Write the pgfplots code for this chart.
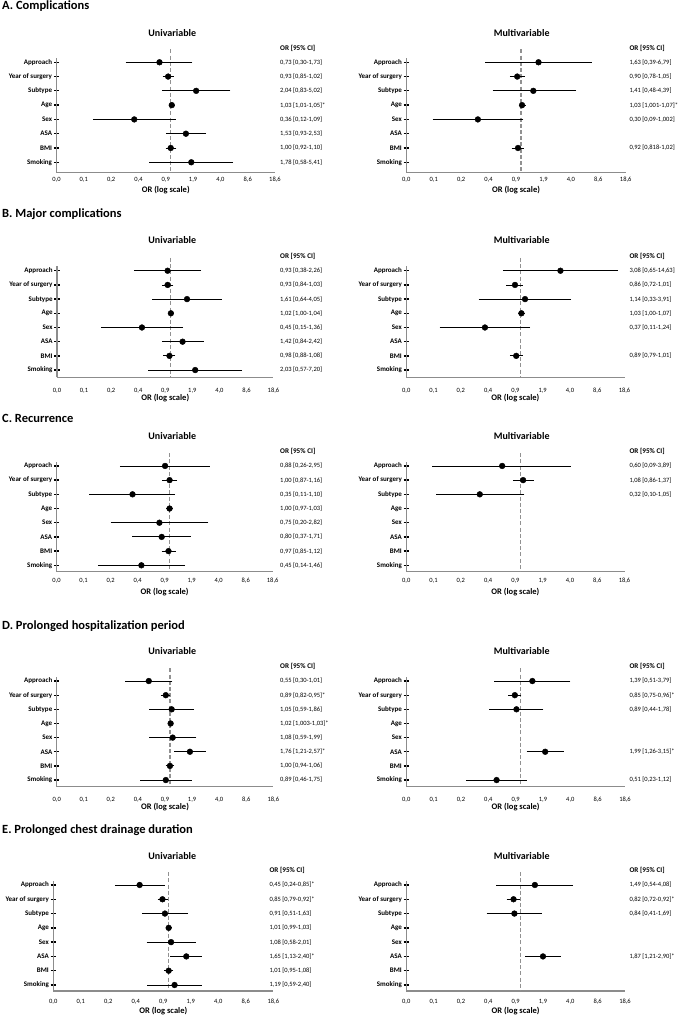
\documentclass[border=0pt]{standalone}
\usepackage{pgfplots}
\pgfplotsset{compat=1.18}
\usepackage{pgfplotstable}
\usepackage{fontspec}
\setmainfont{Carlito}

\definecolor{axgray}{RGB}{140,140,140}
\definecolor{dashgray}{RGB}{145,145,145}

\pgfplotsset{
  myforestaxis/.style={
    scale only axis,
    xmin=0.04071, xmax=18.59,
    ymax=8.3,
    xtick={0.04071,0.0875,0.1882,0.4047,0.87,1.8705,4.0216,8.6464,18.59},
    xticklabels={{0,0},{0,1},{0,2},{0,4},{0,9},{1,9},{4,0},{8,6},{18,6}},
    ytick={1,2,3,4,5,6,7,8},
    yticklabels={Smoking,BMI,ASA,Sex,Age,Subtype,Year of surgery,Approach},
    axis x line*=bottom, axis y line*=left,
    axis line style={axgray, line width=1.3pt},
    tick align=center,
    major tick length=5.5pt,
    xtick style={draw=none},
    ytick style={black, line width=1.3pt},
    xticklabel style={font=\fontsize{6.5}{7}\selectfont, anchor=center, inner sep=0pt},
    yticklabel style={font=\bfseries\fontsize{7}{8}\selectfont, anchor=east, inner sep=0pt, xshift=-1.5pt},
    xlabel={OR (log scale)},
    xlabel style={font=\bfseries\fontsize{8.5}{10}\selectfont, at={(rel axis cs:0.5,0)}, anchor=center, inner sep=0pt},
    clip=false,
  }
}

\newcommand{\fpanel}[9]{%
\begin{semilogxaxis}[myforestaxis, at={(#1pt,#3pt)}, anchor=south west, width=#2pt, height=#4pt, ymin=#5,
  xticklabel style={yshift=-#7pt}, xlabel style={yshift=-#8pt}]
\addplot[dashgray, dash pattern=on 4pt off 2.2pt, line width=1.3pt] coordinates {(1,8.9) (1,#5)};
\addplot[black, only marks, mark=*, mark size=2.9pt,
  error bars/.cd, x dir=both, x explicit,
  error bar style={line width=0.85pt, black},
  error mark options={line width=0.85pt, mark size=2.2pt, black}]
  table[x=or, y=y, x error minus expr={\thisrow{or}-\thisrow{lo}}, x error plus expr={\thisrow{hi}-\thisrow{or}}] {#6};
\addplot[only marks, mark=*, mark size=0pt, mark options={draw opacity=0, fill opacity=0}, nodes near coords, point meta=explicit symbolic,
  nodes near coords style={anchor=west, inner sep=0pt, xshift=#9pt, text=black, text opacity=1, font=\fontsize{6.5}{7}\selectfont}]
  table[x expr=18.59, y=y, meta=lab] {#6};
\node[anchor=west, inner sep=0pt, xshift=#9pt, font=\bfseries\fontsize{7.2}{8}\selectfont] at ({rel axis cs:1,0}|-{axis cs:1,9}) {OR [95\% CI]};
\end{semilogxaxis}}

% ---------- data ----------
\pgfplotstableread[col sep=semicolon]{
y;or;lo;hi;lab
8;0.73;0.30;1.73;0,73 [0,30-1,73]
7;0.93;0.85;1.02;0,93 [0,85-1,02]
6;2.04;0.83;5.02;2,04 [0,83-5,02]
5;1.03;1.01;1.05;1,03 [1,01-1,05]*
4;0.36;0.12;1.09;0,36 [0,12-1,09]
3;1.53;0.93;2.53;1,53 [0,93-2,53]
2;1.00;0.92;1.10;1,00 [0,92-1,10]
1;1.78;0.58;5.41;1,78 [0,58-5,41]
}\Auni
\pgfplotstableread[col sep=semicolon]{
y;or;lo;hi;lab
8;1.63;0.39;6.79;1,63 [0,39-6,79]
7;0.90;0.78;1.05;0,90 [0,78-1,05]
6;1.41;0.48;4.39;1,41 [0,48-4,39]
5;1.03;1.001;1.07;1,03 [1,001-1,07]*
4;0.30;0.09;1.002;0,30 [0,09-1,002]
2;0.92;0.818;1.02;0,92 [0,818-1,02]
}\Amul
\pgfplotstableread[col sep=semicolon]{
y;or;lo;hi;lab
8;0.93;0.38;2.26;0,93 [0,38-2,26]
7;0.93;0.84;1.03;0,93 [0,84-1,03]
6;1.61;0.64;4.05;1,61 [0,64-4,05]
5;1.02;1.00;1.04;1,02 [1,00-1,04]
4;0.45;0.15;1.36;0,45 [0,15-1,36]
3;1.42;0.84;2.42;1,42 [0,84-2,42]
2;0.98;0.88;1.08;0,98 [0,88-1,08]
1;2.03;0.57;7.20;2,03 [0,57-7,20]
}\Buni
\pgfplotstableread[col sep=semicolon]{
y;or;lo;hi;lab
8;3.08;0.65;14.63;3,08 [0,65-14,63]
7;0.86;0.72;1.01;0,86 [0,72-1,01]
6;1.14;0.33;3.91;1,14 [0,33-3,91]
5;1.03;1.00;1.07;1,03 [1,00-1,07]
4;0.37;0.11;1.24;0,37 [0,11-1,24]
2;0.89;0.79;1.01;0,89 [0,79-1,01]
}\Bmul
\pgfplotstableread[col sep=semicolon]{
y;or;lo;hi;lab
8;0.88;0.26;2.95;0,88 [0,26-2,95]
7;1.00;0.87;1.16;1,00 [0,87-1,16]
6;0.35;0.11;1.10;0,35 [0,11-1,10]
5;1.00;0.97;1.03;1,00 [0,97-1,03]
4;0.75;0.20;2.82;0,75 [0,20-2,82]
3;0.80;0.37;1.71;0,80 [0,37-1,71]
2;0.97;0.85;1.12;0,97 [0,85-1,12]
1;0.45;0.14;1.46;0,45 [0,14-1,46]
}\Cuni
\pgfplotstableread[col sep=semicolon]{
y;or;lo;hi;lab
8;0.60;0.09;3.89;0,60 [0,09-3,89]
7;1.08;0.86;1.37;1,08 [0,86-1,37]
6;0.32;0.10;1.05;0,32 [0,10-1,05]
}\Cmul
\pgfplotstableread[col sep=semicolon]{
y;or;lo;hi;lab
8;0.55;0.30;1.01;0,55 [0,30-1,01]
7;0.89;0.82;0.95;0,89 [0,82-0,95]*
6;1.05;0.59;1.86;1,05 [0,59-1,86]
5;1.02;1.003;1.03;1,02 [1,003-1,03]*
4;1.08;0.59;1.99;1,08 [0,59-1,99]
3;1.76;1.21;2.57;1,76 [1,21-2,57]*
2;1.00;0.94;1.06;1,00 [0,94-1,06]
1;0.89;0.46;1.75;0,89 [0,46-1,75]
}\Duni
\pgfplotstableread[col sep=semicolon]{
y;or;lo;hi;lab
8;1.39;0.51;3.79;1,39 [0,51-3,79]
7;0.85;0.75;0.96;0,85 [0,75-0,96]*
6;0.89;0.44;1.78;0,89 [0,44-1,78]
3;1.99;1.26;3.15;1,99 [1,26-3,15]*
1;0.51;0.23;1.12;0,51 [0,23-1,12]
}\Dmul
\pgfplotstableread[col sep=semicolon]{
y;or;lo;hi;lab
8;0.45;0.24;0.85;0,45 [0,24-0,85]*
7;0.85;0.79;0.92;0,85 [0,79-0,92]*
6;0.91;0.51;1.63;0,91 [0,51-1,63]
5;1.01;0.99;1.03;1,01 [0,99-1,03]
4;1.08;0.58;2.01;1,08 [0,58-2,01]
3;1.65;1.13;2.40;1,65 [1,13-2,40]*
2;1.01;0.95;1.08;1,01 [0,95-1,08]
1;1.19;0.59;2.40;1,19 [0,59-2,40]
}\Euni
\pgfplotstableread[col sep=semicolon]{
y;or;lo;hi;lab
8;1.49;0.54;4.08;1,49 [0,54-4,08]
7;0.82;0.72;0.92;0,82 [0,72-0,92]*
6;0.84;0.41;1.69;0,84 [0,41-1,69]
3;1.87;1.21;2.90;1,87 [1,21-2,90]*
}\Emul

\begin{document}
\begin{tikzpicture}
\useasboundingbox (0,0) rectangle (679pt,1016pt);
\tikzset{sect/.style={anchor=base west, inner sep=0pt, font=\bfseries\fontsize{12.5}{14}\selectfont},
  ptitle/.style={anchor=base, inner sep=0pt, font=\bfseries\fontsize{10}{12}\selectfont}}

% A
\node[sect] at (2pt,1006.3pt) {A. Complications};
\node[ptitle] at (172.3pt,979.3pt) {Univariable};
\node[ptitle] at (521.7pt,979.3pt) {Multivariable};
\fpanel{56.5}{218.5}{843.7}{114.3}{0.30}{\Auni}{4.4}{17.7}{5}
\fpanel{406.3}{219.4}{843.7}{114.3}{0.30}{\Amul}{4.4}{17.7}{3.6}

% B
\node[sect] at (2pt,798.3pt) {B. Major complications};
\node[ptitle] at (172.3pt,772.7pt) {Univariable};
\node[ptitle] at (521.7pt,772.7pt) {Multivariable};
\fpanel{57}{216.5}{638.7}{110.8}{0.49}{\Buni}{10.4}{20.4}{6.5}
\fpanel{406.3}{218.2}{638.7}{110.8}{0.49}{\Bmul}{10.4}{20.4}{4.8}

% C
\node[sect] at (2pt,593.7pt) {C. Recurrence};
\node[ptitle] at (172.3pt,576pt) {Univariable};
\node[ptitle] at (521.7pt,576pt) {Multivariable};
\fpanel{56.6}{216.1}{444.3}{110.0}{0.55}{\Cuni}{6.7}{20}{7.3}
\fpanel{406.3}{218.2}{444.3}{110.0}{0.55}{\Cmul}{6.7}{20}{4.8}

% D
\node[sect] at (2pt,386pt) {D. Prolonged hospitalization period};
\node[ptitle] at (172.3pt,361pt) {Univariable};
\node[ptitle] at (521.7pt,361pt) {Multivariable};
\fpanel{56.7}{216.6}{229.3}{109.9}{0.53}{\Duni}{10.7}{20}{6.7}
\fpanel{406.3}{218.7}{229.3}{109.9}{0.53}{\Dmul}{10.7}{20}{4.3}

% E
\node[sect] at (2pt,182pt) {E. Prolonged chest drainage duration};
\node[ptitle] at (172.3pt,156.7pt) {Univariable};
\node[ptitle] at (521.7pt,156.7pt) {Multivariable};
\fpanel{53.3}{220.0}{25}{110.3}{0.58}{\Euni}{8}{19.7}{-4}
\fpanel{406.3}{218.7}{25}{110.3}{0.58}{\Emul}{8}{19.7}{4.3}
\end{tikzpicture}
\end{document}
